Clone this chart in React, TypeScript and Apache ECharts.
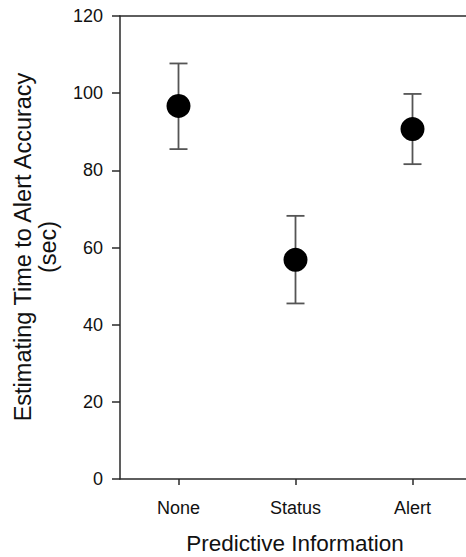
import React, { useEffect, useRef } from "react";
import * as echarts from "echarts";

const categories = ["None", "Status", "Alert"];
const means = [96.7, 56.8, 90.7];
const lower = [85.5, 45.5, 81.6];
const upper = [107.7, 68.2, 99.8];
const yTicks = { min: 0, max: 120, interval: 20 };

export default function App() {
  const ref = useRef<HTMLDivElement>(null);
  useEffect(() => {
    if (!ref.current) return;
    const chart = echarts.init(ref.current, null, { renderer: "svg" });
    const font = "'Liberation Sans', Arial, sans-serif";
    const errData = categories.map((_, i) => [i, lower[i], upper[i]]);
    const lineCol = "#2a2a2a";
    chart.setOption({
      animation: false,
      backgroundColor: "#ffffff",
      grid: {
        left: 120,
        top: 16,
        width: 351,
        bottom: 78,
        show: false,
        containLabel: false,
      },
      xAxis: [
        {
          type: "category",
          data: categories,
          boundaryGap: true,
          axisLine: { show: true, lineStyle: { color: lineCol, width: 1.5 } },
          axisTick: { show: true, alignWithLabel: true, length: 6, lineStyle: { color: lineCol, width: 1.5 } },
          axisLabel: { margin: 20, fontSize: 18, color: "#111", fontFamily: font },
          splitLine: { show: false },
        },
        {
          type: "category",
          position: "top",
          data: categories,
          boundaryGap: true,
          axisLine: { show: true, onZero: false, lineStyle: { color: lineCol, width: 1.5 } },
          axisTick: { show: false },
          axisLabel: { show: false },
          splitLine: { show: false },
        },
      ],
      yAxis: {
        type: "value",
        min: yTicks.min,
        max: yTicks.max,
        interval: yTicks.interval,
        axisLine: { show: true, lineStyle: { color: lineCol, width: 1.5 } },
        axisTick: { show: true, length: 8, lineStyle: { color: lineCol, width: 1.5 } },
        axisLabel: { margin: 17, fontSize: 18, color: "#111", fontFamily: font },
        splitLine: { show: false },
      },
      graphic: [
        {
          type: "text",
          x: 295,
          y: 543,
          style: {
            text: "Predictive Information",
            fontSize: 22.5,
            fontFamily: font,
            fill: "#111",
            textAlign: "center",
            textVerticalAlign: "middle",
          },
        },
        {
          type: "text",
          x: 23,
          y: 247,
          rotation: Math.PI / 2,
          style: {
            text: "Estimating Time to Alert Accuracy",
            fontSize: 23.5,
            fontFamily: font,
            fill: "#111",
            textAlign: "center",
            textVerticalAlign: "middle",
          },
        },
        {
          type: "text",
          x: 48,
          y: 247,
          rotation: Math.PI / 2,
          style: {
            text: "(sec)",
            fontSize: 23.5,
            fontFamily: font,
            fill: "#111",
            textAlign: "center",
            textVerticalAlign: "middle",
          },
        },
      ],
      series: [
        {
          type: "custom",
          z: 2,
          xAxisIndex: 0,
          data: errData,
          renderItem: (params: any, api: any) => {
            const x = api.value(0);
            const lo = api.coord([x, api.value(1)]);
            const hi = api.coord([x, api.value(2)]);
            const half = 9;
            const style = { stroke: "#555", lineWidth: 1.8 };
            return {
              type: "group",
              children: [
                { type: "line", shape: { x1: lo[0], y1: lo[1], x2: hi[0], y2: hi[1] }, style },
                { type: "line", shape: { x1: hi[0] - half, y1: hi[1], x2: hi[0] + half, y2: hi[1] }, style },
                { type: "line", shape: { x1: lo[0] - half, y1: lo[1], x2: lo[0] + half, y2: lo[1] }, style },
              ],
            };
          },
        },
        {
          type: "scatter",
          z: 3,
          xAxisIndex: 0,
          symbol: "circle",
          symbolSize: 24,
          itemStyle: { color: "#000", opacity: 1 },
          data: means.map((v, i) => [i, v]),
        },
      ],
    });
    return () => chart.dispose();
  }, []);
  return (
    <div style={{ position: "fixed", left: 0, top: 0, width: 466, height: 557, overflow: "hidden" }}>
      <div ref={ref} style={{ width: 490, height: 557 }} />
    </div>
  );
}
